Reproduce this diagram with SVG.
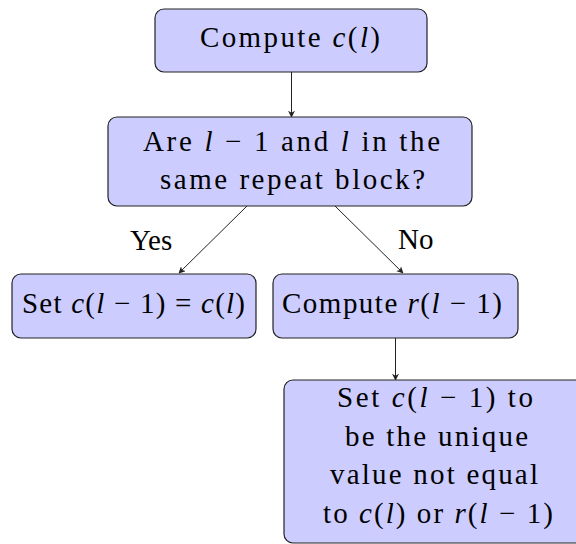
<svg xmlns="http://www.w3.org/2000/svg" width="576" height="544" viewBox="0 0 576 544" font-family="Liberation Serif">
<defs>
<style>
.box{fill:#ccccff;stroke:#222;stroke-width:1.2}
.edge{stroke:#222;stroke-width:1;fill:none;marker-end:url(#arr)}
</style>
<marker id="arr" viewBox="0 0 10 10" refX="9" refY="5" markerWidth="7" markerHeight="7" markerUnits="userSpaceOnUse" orient="auto">
<path d="M0,0 L10,5 L0,10 L3,5 Z" fill="#222"/>
</marker>
</defs>
<g id="connectors">
<line class="edge" x1="291.5" y1="72" x2="291.5" y2="117"/>
<line class="edge" x1="247" y1="206" x2="179" y2="273"/>
<line class="edge" x1="335" y1="206" x2="403" y2="273"/>
<line class="edge" x1="395.5" y1="338" x2="395.5" y2="380"/>
</g>
<g id="labels">
<text x="130" y="250" font-family="Liberation Serif" style="font-family:'Liberation Serif',serif" font-size="29">Yes</text>
<text x="398" y="249" font-family="Liberation Serif" style="font-family:'Liberation Serif',serif" font-size="29">No</text>
</g>
<g id="n1">
<rect class="box" x="155" y="9" width="272" height="63" rx="9"/>
<text x="290" y="47" font-family="Liberation Serif" style="font-family:'Liberation Serif',serif" font-size="29" text-anchor="middle" textLength="180" lengthAdjust="spacing">Compute <tspan font-style="italic">c</tspan>(<tspan font-style="italic">l</tspan>)</text>
</g>
<g id="n2">
<rect class="box" x="108" y="117" width="364" height="89" rx="9"/>
<text x="291.5" y="151" font-family="Liberation Serif" style="font-family:'Liberation Serif',serif" font-size="29" text-anchor="middle" textLength="297" lengthAdjust="spacing">Are <tspan font-style="italic">l</tspan> − 1 and <tspan font-style="italic">l</tspan> in the</text>
<text x="292.5" y="189" font-family="Liberation Serif" style="font-family:'Liberation Serif',serif" font-size="29" text-anchor="middle" textLength="265" lengthAdjust="spacing">same repeat block?</text>
</g>
<g id="n3">
<rect class="box" x="12" y="274" width="244" height="64" rx="9"/>
<text x="133.5" y="313" font-family="Liberation Serif" style="font-family:'Liberation Serif',serif" font-size="29" text-anchor="middle" textLength="223" lengthAdjust="spacing">Set <tspan font-style="italic">c</tspan>(<tspan font-style="italic">l</tspan> − 1) = <tspan font-style="italic">c</tspan>(<tspan font-style="italic">l</tspan>)</text>
</g>
<g id="n4">
<rect class="box" x="273" y="274" width="245" height="64" rx="9"/>
<text x="392" y="313" font-family="Liberation Serif" style="font-family:'Liberation Serif',serif" font-size="29" text-anchor="middle" textLength="220" lengthAdjust="spacing">Compute <tspan font-style="italic">r</tspan>(<tspan font-style="italic">l</tspan> − 1)</text>
</g>
<g id="n5">
<rect class="box" x="284" y="380" width="302" height="163" rx="9"/>
<text x="435" y="407" font-family="Liberation Serif" style="font-family:'Liberation Serif',serif" font-size="29" text-anchor="middle" textLength="196" lengthAdjust="spacing">Set <tspan font-style="italic">c</tspan>(<tspan font-style="italic">l</tspan> − 1) to</text>
<text x="436.5" y="446" font-family="Liberation Serif" style="font-family:'Liberation Serif',serif" font-size="29" text-anchor="middle" textLength="183" lengthAdjust="spacing">be the unique</text>
<text x="434" y="484" font-family="Liberation Serif" style="font-family:'Liberation Serif',serif" font-size="29" text-anchor="middle" textLength="208" lengthAdjust="spacing">value not equal</text>
<text x="438" y="523" font-family="Liberation Serif" style="font-family:'Liberation Serif',serif" font-size="29" text-anchor="middle" textLength="230" lengthAdjust="spacing">to <tspan font-style="italic">c</tspan>(<tspan font-style="italic">l</tspan>) or <tspan font-style="italic">r</tspan>(<tspan font-style="italic">l</tspan> − 1)</text>
</g>
</svg>
